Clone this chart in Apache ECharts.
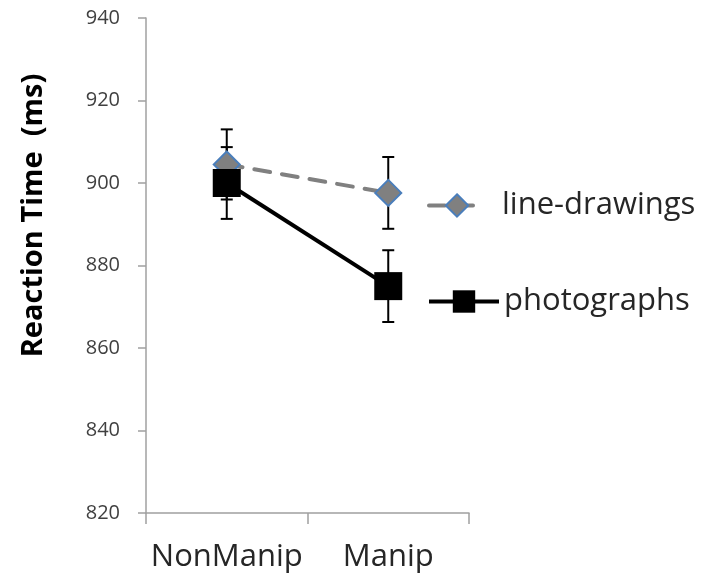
<!DOCTYPE html>
<html>
<head>
<meta charset="utf-8">
<script src="https://cdn.jsdelivr.net/npm/echarts@6/dist/echarts.min.js"></script>
<style>
  html, body { margin: 0; padding: 0; background: #fff; }
  #chart { width: 704px; height: 579px; }
</style>
</head>
<body>
<div id="chart"></div>
<script>
// Conditions on the x axis
const conditions = ['NonManip', 'Manip'];

// Mean reaction times (ms) and error-bar half-widths
const lineDrawingsMean = [904.5, 897.6];
const lineDrawingsErr = [8.5, 8.7];
const photographsMean = [900, 875];
const photographsErr = [8.7, 8.7];

// Y axis range and tick step
const yMin = 820;
const yMax = 940;
const yStep = 20;

const FONT = '"Open Sans", "Noto Sans", sans-serif';
const TEXT_COLOR = '#404040';

function errorData(means, errs) {
  return means.map((m, i) => [i, m - errs[i], m + errs[i]]);
}

// Vertical whisker with caps at both ends
function renderErrorBar(params, api) {
  const x = api.value(0);
  const lo = api.coord([x, api.value(1)]);
  const hi = api.coord([x, api.value(2)]);
  const half = 6;
  const style = { stroke: '#000', lineWidth: 2 };
  return {
    type: 'group',
    children: [
      { type: 'line', shape: { x1: lo[0], y1: lo[1], x2: hi[0], y2: hi[1] }, style },
      { type: 'line', shape: { x1: hi[0] - half, y1: hi[1], x2: hi[0] + half, y2: hi[1] }, style },
      { type: 'line', shape: { x1: lo[0] - half, y1: lo[1], x2: lo[0] + half, y2: lo[1] }, style }
    ]
  };
}

const chart = echarts.init(document.getElementById('chart'), null, { renderer: 'canvas' });

chart.setOption({
  animation: false,
  backgroundColor: '#ffffff',
  grid: { left: 146, right: 235, top: 18, bottom: 66, containLabel: false },
  legend: [
    {
      data: ['line-drawings'],
      orient: 'horizontal',
      left: 422,
      top: 185,
      itemWidth: 56,
      itemHeight: 28,
      lineStyle: { width: 4 },
      textStyle: { fontFamily: FONT, fontSize: 31, color: '#262626', padding: [0, 0, 0, 12] },
      selectedMode: false
    },
    {
      data: ['photographs'],
      orient: 'horizontal',
      left: 422,
      top: 281,
      itemWidth: 70,
      itemHeight: 28,
      lineStyle: { width: 4 },
      textStyle: { fontFamily: FONT, fontSize: 31, color: '#262626' },
      selectedMode: false
    }
  ],
  xAxis: {
    type: 'category',
    data: conditions,
    boundaryGap: true,
    axisLine: { lineStyle: { color: '#a0a0a0', width: 1.5 } },
    axisTick: { show: true, length: 11, lineStyle: { color: '#a0a0a0', width: 1.5 } },
    axisLabel: { interval: 0, fontFamily: FONT, fontSize: 31, color: '#262626', margin: 29 },
    splitLine: { show: false }
  },
  yAxis: {
    type: 'value',
    min: yMin,
    max: yMax,
    interval: yStep,
    name: 'Reaction Time  (ms)',
    nameLocation: 'middle',
    nameGap: 98,
    nameRotate: 90,
    nameTextStyle: {
      fontFamily: FONT, fontSize: 29, fontWeight: 'bold', color: '#000',
      padding: [0, 0, 0, 100]
    },
    axisLine: { show: true, lineStyle: { color: '#a0a0a0', width: 1.5 } },
    axisTick: { show: true, length: 8, lineStyle: { color: '#a0a0a0', width: 1.5 } },
    axisLabel: { fontFamily: FONT, fontSize: 20, color: TEXT_COLOR, margin: 26 },
    splitLine: { show: false }
  },
  series: [
    {
      name: 'err-line-drawings',
      type: 'custom',
      renderItem: renderErrorBar,
      data: errorData(lineDrawingsMean, lineDrawingsErr),
      encode: { x: 0, y: [1, 2] },
      z: 1,
      silent: true
    },
    {
      name: 'err-photographs',
      type: 'custom',
      renderItem: renderErrorBar,
      data: errorData(photographsMean, photographsErr),
      encode: { x: 0, y: [1, 2] },
      z: 1,
      silent: true
    },
    {
      name: 'line-drawings',
      type: 'line',
      data: lineDrawingsMean,
      symbol: 'diamond',
      symbolSize: 26,
      lineStyle: { color: '#808080', width: 4, type: [16, 12], cap: 'round' },
      itemStyle: { color: '#808080', borderColor: '#4a7ebb', borderWidth: 2 },
      z: 3
    },
    {
      name: 'photographs',
      type: 'line',
      data: photographsMean,
      symbol: 'rect',
      symbolSize: 28,
      lineStyle: { color: '#000000', width: 4 },
      itemStyle: { color: '#000000', borderColor: '#000000', borderWidth: 0 },
      z: 4
    }
  ]
});
</script>
</body>
</html>
